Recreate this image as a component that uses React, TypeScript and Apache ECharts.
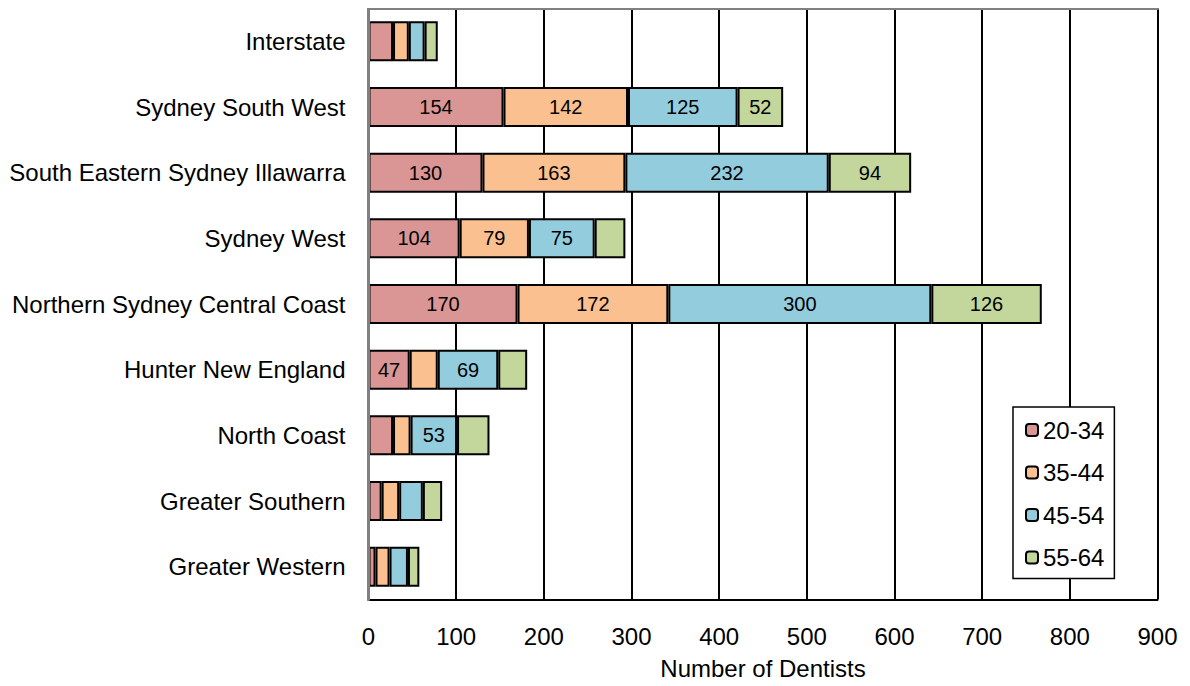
import React, { useEffect, useRef } from "react";
import * as echarts from "echarts";

const categories = [
  "Interstate",
  "Sydney South West",
  "South Eastern Sydney Illawarra",
  "Sydney West",
  "Northern Sydney Central Coast",
  "Hunter New England",
  "North Coast",
  "Greater Southern",
  "Greater Western",
];
const age20to34 = [28, 154, 130, 104, 170, 47, 28, 15, 8];
const age35to44 = [18, 142, 163, 79, 172, 32, 20, 20, 16];
const age45to54 = [18, 125, 232, 75, 300, 69, 53, 27, 21];
const age55to64 = [15, 52, 94, 35, 126, 33, 37, 22, 13];
const seriesNames = ["20-34", "35-44", "45-54", "55-64"];
const xTicks = [0, 100, 200, 300, 400, 500, 600, 700, 800, 900];

const colors = ["#D99694", "#FAC090", "#93CDDD", "#C3D69B"];
const FONT = "Liberation Sans, Arial, sans-serif";

export default function App() {
  const ref = useRef<HTMLDivElement>(null);
  useEffect(() => {
    if (!ref.current) return;
    const chart = echarts.init(ref.current, undefined, { renderer: "svg" });
    const all = [age20to34, age35to44, age45to54, age55to64];
    chart.setOption({
      animation: false,
      textStyle: { fontFamily: FONT },
      grid: {
        left: 360.5,
        top: 0.5,
        width: 789,
        height: 591,
        containLabel: false,
        outerBoundsMode: "none",
      },
      legend: {
        orient: "vertical",
        left: 1005,
        top: 399,
        data: seriesNames,
        backgroundColor: "#fff",
        borderColor: "#000",
        borderWidth: 1.5,
        padding: [11, 10, 9, 12],
        itemGap: 18.5,
        itemWidth: 12,
        itemHeight: 12,
        textStyle: { fontSize: 24, color: "#000", fontFamily: FONT },
      },
      xAxis: [
        {
          type: "value",
          min: 0,
          max: 900,
          interval: 100,
          position: "bottom",
          axisLine: { show: true, lineStyle: { color: "#000", width: 2 } },
          axisTick: { show: false },
          axisLabel: {
            fontSize: 24,
            color: "#000",
            margin: 25,
            fontFamily: FONT,
            formatter: (v: number) => (xTicks.includes(v) ? String(v) : ""),
          },
          splitLine: { show: true, lineStyle: { color: "#000", width: 2 } },
          name: "Number of Dentists",
          nameLocation: "middle",
          nameGap: 57,
          nameTextStyle: { fontSize: 24, color: "#000", fontFamily: FONT },
        },
        {
          type: "value",
          min: 0,
          max: 900,
          interval: 100,
          position: "top",
          axisLine: { show: true, lineStyle: { color: "#808080", width: 3 } },
          axisTick: { show: false },
          axisLabel: { show: false },
          splitLine: { show: false },
        },
      ],
      yAxis: {
        type: "category",
        data: categories,
        inverse: true,
        axisLine: { show: true, lineStyle: { color: "#808080", width: 3 } },
        axisTick: { show: false },
        axisLabel: { fontSize: 24, color: "#000", margin: 23, fontFamily: FONT },
        splitLine: { show: false },
        z: 5,
      },
      series: all.map((d, i) => ({
        name: seriesNames[i],
        type: "bar",
        stack: "total",
        xAxisIndex: 0,
        data: d,
        barWidth: 40,
        itemStyle: { color: colors[i], borderColor: "#000", borderWidth: 2 },
        label: {
          show: true,
          position: "inside",
          fontSize: 20,
          color: "#000",
          fontFamily: FONT,
          formatter: (p: any) => (p.value >= 45 ? String(p.value) : ""),
        },
      })),
    });
    return () => chart.dispose();
  }, []);
  return <div ref={ref} style={{ width: 1182, height: 678 }} />;
}
